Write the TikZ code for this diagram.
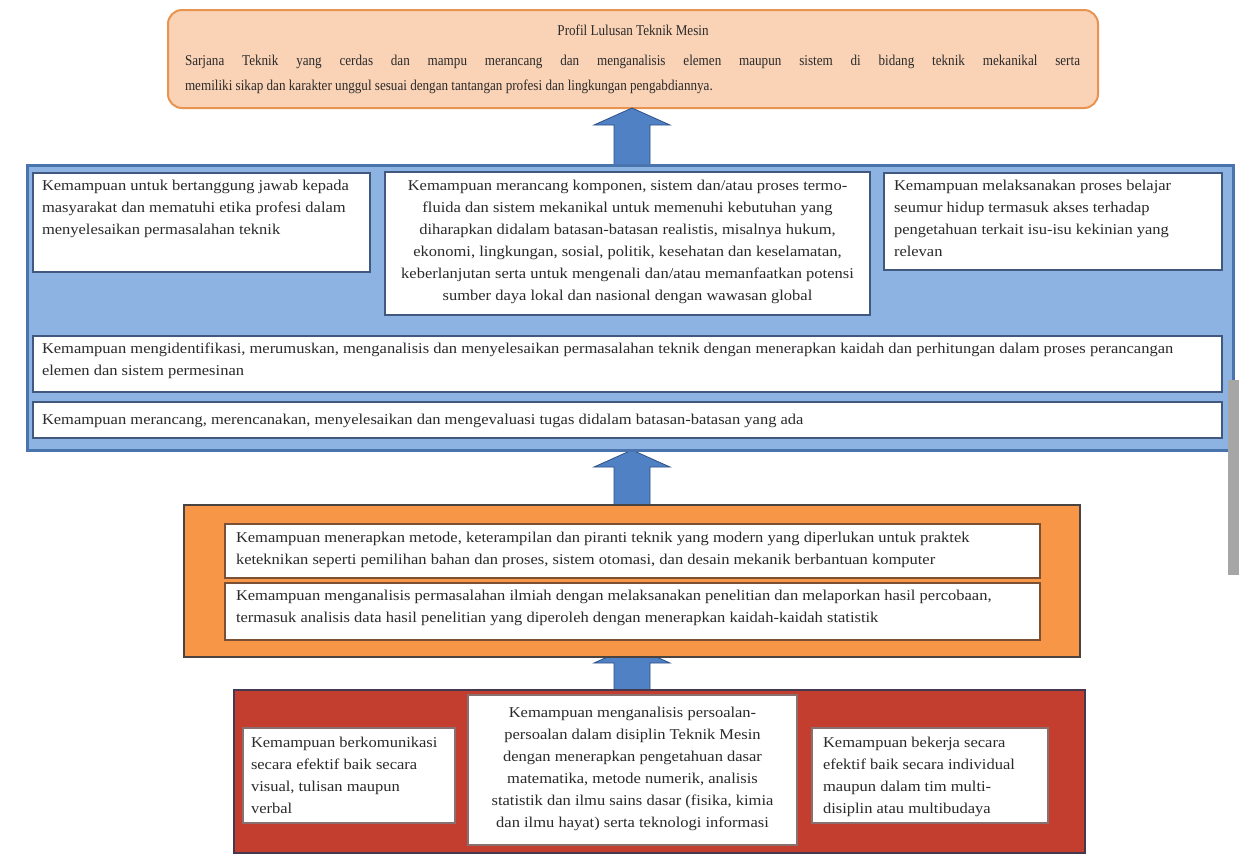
\documentclass[tikz,border=0pt]{standalone}
\usepackage{fontspec}
\setmainfont{Liberation Serif}[FakeStretch=1.1]
\newfontfamily\narrowserif{Liberation Serif}[FakeStretch=0.875]
\usetikzlibrary{calc}

\definecolor{peachfill}{HTML}{FAD3B6}
\definecolor{peachedge}{HTML}{E8934F}
\definecolor{bluefill}{HTML}{8DB3E2}
\definecolor{blueedge}{HTML}{4A74AE}
\definecolor{innerblue}{HTML}{41597F}
\definecolor{orangefill}{HTML}{F79646}
\definecolor{orangeedge}{HTML}{4A4340}
\definecolor{innerbrown}{HTML}{7B5136}
\definecolor{redfill}{HTML}{C43E30}
\definecolor{rededge}{HTML}{45384F}
\definecolor{innergrey}{HTML}{8A6F6F}
\definecolor{arrowfill}{HTML}{4F81C4}
\definecolor{arrowedge}{HTML}{2E4F86}
\definecolor{inktext}{HTML}{2A2A2A}

\tikzset{
  panel/.style={draw, anchor=north west, inner sep=0pt, outer sep=0pt},
  card/.style={panel, fill=white, line width=1.8pt},
  txt/.style={inner sep=0pt, outer sep=0pt, text=inktext,
    font=\fontsize{15pt}{22pt}\selectfont},
  lefttxt/.style={txt, anchor=north west, align=left},
  midtxt/.style={txt, anchor=north, align=center},
  blockarrow/.style={fill=arrowfill, draw=arrowedge, line width=0.8pt, line join=miter},
}

% upward block arrow: #1 = tip, #2 = foot (same x)
\newcommand\blockup[2]{%
  \filldraw[blockarrow] ($(#2)+(-18,0)$) -- ($(#1)+(-18,17)$) -- ($(#1)+(-38,17)$)
    -- (#1) -- ($(#1)+(38,17)$) -- ($(#1)+(18,17)$) -- ($(#2)+(18,0)$) -- cycle;}

\begin{document}
\begin{tikzpicture}[x=1pt,y=-1pt]
\useasboundingbox (0,0) rectangle (1239,855);
\fill[white] (0,0) rectangle (1239,855);

% ---------- graduate profile ----------
\node[panel, fill=peachfill, draw=peachedge, line width=2pt, rounded corners=14pt,
      minimum width=930pt, minimum height=98pt] (profil) at (168,10) {};
\node[txt, anchor=north, font=\narrowserif\fontsize{15pt}{22pt}\selectfont]
  (profilT) at ($(profil.north)+(0,15)$) {Profil Lulusan Teknik Mesin};
\node[txt, anchor=north west, text width=895pt, align=justify,
      font=\narrowserif\fontsize{15pt}{25pt}\selectfont] (profilB) at (185,55)
  {Sarjana Teknik yang cerdas dan mampu merancang dan menganalisis elemen maupun sistem di bidang teknik mekanikal serta\linebreak
   memiliki sikap dan karakter unggul sesuai dengan tantangan profesi dan lingkungan pengabdiannya.};

% ---------- arrows between the levels ----------
\coordinate (a1tip) at (632,0 |- profil.south);
\coordinate (a1foot) at (632,165);
\coordinate (a2tip) at (632,450);
\coordinate (a2foot) at (632,505);
\coordinate (a3tip) at (632,646);
\coordinate (a3foot) at (632,690);
\blockup{a1tip}{a1foot}
\blockup{a2tip}{a2foot}
\blockup{a3tip}{a3foot}

% ---------- blue level ----------
\node[panel, fill=bluefill, draw=blueedge, line width=3pt,
      minimum width=1206pt, minimum height=285pt] (blue) at (27,165) {};
\node[card, draw=innerblue, minimum width=337pt, minimum height=99pt] (bl) at (33,173) {};
\node[card, draw=innerblue, minimum width=485pt, minimum height=143pt] (bm) at (385,172) {};
\node[card, draw=innerblue, minimum width=338pt, minimum height=97pt] (br) at (884,173) {};
\node[card, draw=innerblue, minimum width=1189pt, minimum height=56pt] (b1) at (33,336) {};
\node[card, draw=innerblue, minimum width=1189pt, minimum height=36pt] (b2) at (33,402) {};

\node[lefttxt] (blt) at ($(bl.north west)+(9,7)$)
  {Kemampuan untuk bertanggung jawab kepada\\ masyarakat dan mematuhi etika profesi dalam\\ menyelesaikan permasalahan teknik};
\node[midtxt] (bmt) at ($(bm.north)+(0,8)$)
  {Kemampuan merancang komponen, sistem dan/atau proses termo-\\
   fluida dan sistem mekanikal untuk memenuhi kebutuhan yang\\
   diharapkan didalam batasan-batasan realistis, misalnya hukum,\\
   ekonomi, lingkungan, sosial, politik, kesehatan dan keselamatan,\\
   keberlanjutan serta untuk mengenali dan/atau memanfaatkan potensi\\
   sumber daya lokal dan nasional dengan wawasan global};
\node[lefttxt] (brt) at ($(br.north west)+(10,7)$)
  {Kemampuan melaksanakan proses belajar\\ seumur hidup termasuk akses terhadap\\ pengetahuan terkait isu-isu kekinian yang\\ relevan};
\node[lefttxt] (b1t) at ($(b1.north west)+(9,7)$)
  {Kemampuan mengidentifikasi, merumuskan, menganalisis dan menyelesaikan permasalahan teknik dengan menerapkan kaidah dan perhitungan dalam proses perancangan\\
   elemen dan sistem permesinan};
\node[lefttxt] (b2t) at ($(b2.north west)+(9,12)$)
  {Kemampuan merancang, merencanakan, menyelesaikan dan mengevaluasi tugas didalam batasan-batasan yang ada};

% ---------- orange level ----------
\node[panel, fill=orangefill, draw=orangeedge, line width=2.5pt,
      minimum width=896pt, minimum height=152pt] (orange) at (184,505) {};
\node[card, draw=innerbrown, minimum width=815pt, minimum height=54pt] (o1) at (225,524) {};
\node[card, draw=innerbrown, minimum width=815pt, minimum height=57pt] (o2) at (225,583) {};
\node[lefttxt] (o1t) at ($(o1.north west)+(11,8)$)
  {Kemampuan menerapkan metode, keterampilan dan piranti teknik yang modern yang diperlukan untuk praktek\\
   keteknikan seperti pemilihan bahan dan proses, sistem otomasi, dan desain mekanik berbantuan komputer};
\node[lefttxt] (o2t) at ($(o2.north west)+(11,7)$)
  {Kemampuan menganalisis permasalahan ilmiah dengan melaksanakan penelitian dan melaporkan hasil percobaan,\\
   termasuk analisis data hasil penelitian yang diperoleh dengan menerapkan kaidah-kaidah statistik};

% ---------- red level ----------
\node[panel, fill=redfill, draw=rededge, line width=2.5pt,
      minimum width=851pt, minimum height=163pt] (red) at (234,690) {};
\node[card, draw=innergrey, line width=1.2pt, minimum width=212pt, minimum height=95pt] (rl) at (243,728) {};
\node[card, draw=innergrey, line width=1.2pt, minimum width=329pt, minimum height=150pt] (rm) at (468,695) {};
\node[card, draw=innergrey, line width=1.2pt, minimum width=236pt, minimum height=95pt] (rr) at (812,728) {};
\node[lefttxt] (rlt) at ($(rl.north west)+(8,9)$)
  {Kemampuan berkomunikasi\\ secara efektif baik secara\\ visual, tulisan maupun\\ verbal};
\node[midtxt] (rmt) at ($(rm.north)+(0,12)$)
  {Kemampuan menganalisis persoalan-\\ persoalan dalam disiplin Teknik Mesin\\ dengan menerapkan pengetahuan dasar\\
   matematika, metode numerik, analisis\\ statistik dan ilmu sains dasar (fisika, kimia\\ dan ilmu hayat) serta teknologi informasi};
\node[lefttxt] (rrt) at ($(rr.north west)+(11,9)$)
  {Kemampuan bekerja secara\\ efektif baik secara individual\\ maupun dalam tim multi-\\ disiplin atau multibudaya};

% grey strip at the right margin
\fill[gray!70] (1228,380) rectangle (1239,575);
\end{tikzpicture}
\end{document}
